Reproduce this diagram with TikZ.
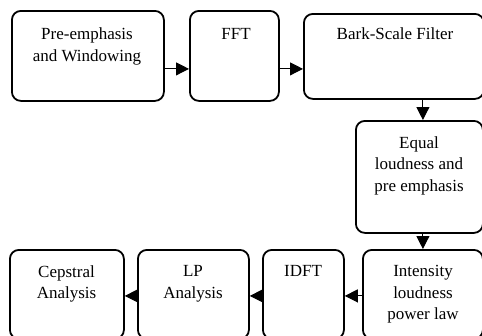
\documentclass[tikz,border=0pt]{standalone}
\usepackage{fontspec}
\setmainfont{Liberation Serif}
\usetikzlibrary{arrows.meta}
\begin{document}
\begin{tikzpicture}[x=1pt,y=-1pt,
  box/.style={draw=black, line width=1.8pt, rounded corners=9pt, rectangle, inner sep=0pt, anchor=north west},
  txt/.style={inner sep=0pt, anchor=north, align=center, font=\fontsize{17}{21.5}\selectfont},
  arr/.style={line width=1pt, -{Triangle[length=13pt,width=13pt]}}]
\useasboundingbox (0,0) rectangle (482,335);
\clip (0,0) rectangle (482,335);
\fill[white] (0,0) rectangle (482,335);
% boxes
\node[box, minimum width=152pt, minimum height=90pt] (b1) at (11,10) {};
\node[box, minimum width=89pt, minimum height=90pt] (b2) at (189,10) {};
\node[box, minimum width=180pt, minimum height=85pt] (b3) at (303,13) {};
\node[box, minimum width=127pt, minimum height=112pt] (b4) at (355,120) {};
\node[box, minimum width=120pt, minimum height=89pt] (b5) at (362,249) {};
\node[box, minimum width=81pt, minimum height=89pt] (b6) at (262,249) {};
\node[box, minimum width=111pt, minimum height=89pt] (b7) at (137,249) {};
\node[box, minimum width=114pt, minimum height=89pt] (b8) at (9,249) {};
% texts
\node[txt] (t1) at (87,27.8) {Pre-emphasis\\and Windowing};
\node[txt] (t2) at (236,27.8) {FFT};
\node[txt] (t3) at (395,27.8) {Bark-Scale Filter};
\node[txt] (t4) at (419,136.3) {Equal\\loudness and\\pre emphasis};
\node[txt] (t5) at (423,265.3) {Intensity\\loudness\\power law};
\node[txt] (t6) at (303,265.3) {IDFT};
\node[txt] (t7) at (193,265.3) {LP\\Analysis};
\node[txt] (t8) at (66.5,265.3) {Cepstral\\Analysis};
% arrows
\draw[arr] ([yshift=-13pt]b1.east) -- ([yshift=-13pt]b2.west);
\draw[arr] ([yshift=-13pt]b2.east) -- ([yshift=-13pt]b2.east -| b3.west);
\draw[arr] ([xshift=3.5pt]b4.north |- b3.south) -- ([xshift=3.5pt]b4.north);
\draw[arr] (b5.north |- b4.south) -- (b5.north);
\draw[arr] ([yshift=-1.5pt]b5.west) -- ([yshift=-1.5pt]b6.east);
\draw[arr] ([yshift=-1.5pt]b6.west) -- ([yshift=-1.5pt]b7.east);
\draw[arr] ([yshift=-1.5pt]b7.west) -- ([yshift=-1.5pt]b8.east);
\end{tikzpicture}
\end{document}
